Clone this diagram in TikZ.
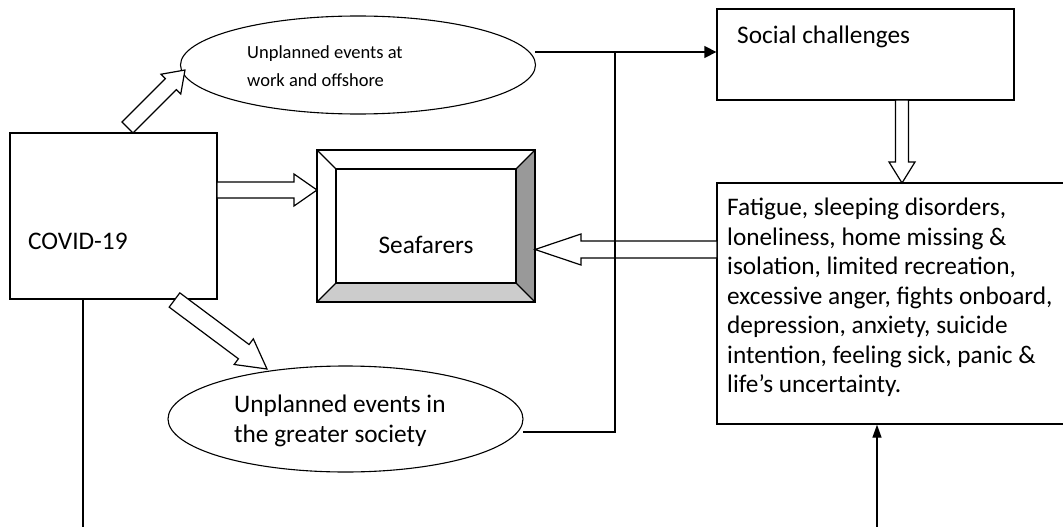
\documentclass[tikz,border=0pt]{standalone}
\usepackage{fontspec}
\setmainfont{Carlito}
\usetikzlibrary{calc,shapes.geometric,arrows.meta}
\newcommand\hollowarrow[5]{%
  \coordinate (hb) at ($(#2)!#5!(#1)$);
  \filldraw[blockarrow] ($(#1)!#3!90:(#2)$) -- ($(hb)!#3!90:(#2)$) -- ($(hb)!#4!90:(#2)$) -- (#2)
    -- ($(hb)!#4!-90:(#2)$) -- ($(hb)!#3!-90:(#2)$) -- ($(#1)!#3!-90:(#2)$) -- cycle;}
\tikzset{
  box/.style={draw, line width=1.3pt, inner sep=0pt},
  ell/.style={draw, ellipse, line width=1.1pt, inner sep=0pt},
  blockarrow/.style={draw=black, fill=white, line width=1.2pt, line join=miter},
  conn/.style={draw, line width=1.3pt},
  txt/.style={inner sep=0pt, align=left, font=\fontsize{25.3}{29.5}\selectfont},
  smalltxt/.style={inner sep=0pt, align=left, font=\fontsize{18.5}{28}\selectfont},
}
\begin{document}
\begin{tikzpicture}[x=1pt,y=-1pt]
\useasboundingbox (0,0) rectangle (1063,527);
\clip (0,0) rectangle (1063,527);

% boxes
\node[box, minimum width=207pt, minimum height=166pt] (covid) at (113.5,216) {};
\node[box, minimum width=297pt, minimum height=91pt] (social) at (865.5,54.5) {};
\node[box, minimum width=363pt, minimum height=241pt] (rbox) at (898.5,303.5) {};
\node[ell, minimum width=355pt, minimum height=98pt] (topell) at (358,65) {};
\node[ell, minimum width=355pt, minimum height=106pt] (botell) at (345.5,419) {};

% bevelled Seafarers box
\coordinate (o1) at (317,150); \coordinate (o2) at (535,150);
\coordinate (o3) at (535,302); \coordinate (o4) at (317,302);
\coordinate (i1) at (336,169); \coordinate (i2) at (516,169);
\coordinate (i3) at (516,283); \coordinate (i4) at (336,283);
\fill[white] (o1) -- (o2) -- (i2) -- (i1) -- cycle;
\fill[black!40] (o2) -- (o3) -- (i3) -- (i2) -- cycle;
\fill[black!20] (o3) -- (o4) -- (i4) -- (i3) -- cycle;
\draw[line width=1.3pt, line join=miter] (o1) -- (o2) -- (o3) -- (o4) -- cycle;
\draw[line width=1.3pt] (o1) -- (i1) (o2) -- (i2) (o3) -- (i3) (o4) -- (i4);
\node[box, fill=white, minimum width=180pt, minimum height=114pt] (sea) at (426,226) {};

% texts
\node[txt, anchor=west] (covidtxt) at (28,241) {COVID-19};
\node[txt] (seatxt) at (426,245) {Seafarers};
\node[txt, anchor=west] (socialtxt) at (737,37) {Social challenges};
\node[smalltxt, anchor=west] (toptxt) at (247,66) {Unplanned events at\\work and offshore};
\node[txt, anchor=west] (bottxt) at (234,421) {Unplanned events in\\the greater society};
\node[txt, anchor=north west] (rtxt) at (727,198) {Fatigue, sleeping disorders,\\loneliness, home missing \&\\isolation, limited recreation,\\excessive anger, fights onboard,\\depression, anxiety, suicide\\intention, feeling sick, panic \&\\life’s uncertainty.};

% hollow block arrows
\coordinate (a1s) at (217,190); \coordinate (a1e) at (317,190);
\hollowarrow{a1s}{a1e}{8pt}{16pt}{23pt}
\coordinate (a2s) at (717,249.5); \coordinate (a2e) at (535,249.5);
\hollowarrow{a2s}{a2e}{8.5pt}{15.5pt}{46pt}
\coordinate (a3s) at (902,100); \coordinate (a3e) at (902,183);
\hollowarrow{a3s}{a3e}{6.5pt}{13pt}{21pt}
\coordinate (a4s) at (127.5,127.5); \coordinate (a4e) at (185,70);
\hollowarrow{a4s}{a4e}{7.8pt}{14pt}{20pt}
\coordinate (a5s) at (174.5,300); \coordinate (a5e) at (267,369);
\hollowarrow{a5s}{a5e}{8.9pt}{16pt}{29pt}

% thin connectors
\coordinate (jtop) at (615,52);
\coordinate (jbot) at (615,432);
\coordinate (topstart) at (535,52);
\coordinate (botstart) at (523,432);
\draw[conn, -{Triangle[length=12pt,width=12pt]}] (topstart) -- (social.west |- jtop);
\draw[conn] (jtop) -- (jbot) -- (botstart);
\coordinate (covidfoot) at (83,540);
\draw[conn] (covid.south -| covidfoot) -- (covidfoot);
\coordinate (rfoot) at (877,540);
\draw[conn, -{Triangle[length=13pt,width=9pt]}] (rfoot) -- (rfoot |- rbox.south);
\end{tikzpicture}
\end{document}
